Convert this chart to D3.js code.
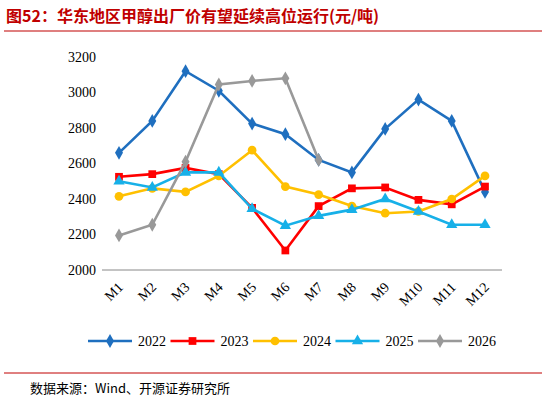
<!DOCTYPE html>
<html><head><meta charset="utf-8">
<script src="https://cdn.jsdelivr.net/npm/d3@7/dist/d3.min.js"></script>
<style>body{margin:0;background:#fff}</style>
</head><body><svg width="546" height="405"></svg>
<script>
const months = ["M1","M2","M3","M4","M5","M6","M7","M8","M9","M10","M11","M12"]
const yTicks = [2000,2200,2400,2600,2800,3000,3200]
const s2022 = [2660,2840,3120,3010,2825,2765,2620,2550,2795,2960,2840,2440]
const s2023 = [2525,2540,2575,2540,2350,2110,2360,2460,2465,2395,2370,2470]
const s2024 = [2415,2460,2440,2530,2675,2470,2425,2360,2320,2330,2400,2530]
const s2025 = [2500,2465,2550,2550,2345,2250,2305,2340,2400,2330,2255,2255]
const s2026 = [2195,2255,2610,3045,3065,3080,2620]
const series = [
  {name:"2022", v:s2022, c:"#1f6fbf", sym:d3.symbolDiamond, sz:55},
  {name:"2023", v:s2023, c:"#ff0000", sym:d3.symbolSquare, sz:60},
  {name:"2024", v:s2024, c:"#ffc000", sym:d3.symbolCircle, sz:60},
  {name:"2025", v:s2025, c:"#17b0e8", sym:d3.symbolTriangle, sz:55},
  {name:"2026", v:s2026, c:"#999999", sym:d3.symbolDiamond, sz:55}
]
const svg = d3.select("svg")
const font = "'Noto Sans CJK SC', sans-serif"
svg.append("text").attr("x",6).attr("y",22).attr("fill","#c00000").attr("font-weight","bold")
  .attr("font-size",16).attr("font-family",font).text("图52：华东地区甲醇出厂价有望延续高位运行(元/吨)")
svg.append("line").attr("x1",4).attr("x2",542).attr("y1",31).attr("y2",31).attr("stroke","#c00000").attr("stroke-width",1.2)

const x = d3.scalePoint().domain(months).range([119,485])
const y = d3.scaleLinear().domain([2000,3200]).range([270,57])
const yAx = svg.append("g").attr("transform","translate(102,0)")
  .call(d3.axisLeft(y).tickValues(yTicks).tickSize(0).tickPadding(6).tickFormat(d3.format("d")))
yAx.select(".domain").remove()
yAx.selectAll("text").attr("font-size",14).attr("font-family","'Times New Roman', 'Liberation Serif', serif").attr("fill","#000")
svg.append("line").attr("x1",102).attr("x2",502).attr("y1",270).attr("y2",270).attr("stroke","#888")
svg.selectAll(".xl").data(months).join("text")
  .attr("transform",d=>`translate(${x(d)+5},${288}) rotate(-45)`)
  .attr("text-anchor","end").attr("font-size",14).attr("font-family","'Times New Roman', 'Liberation Serif', serif").text(d=>d)

const line = d3.line().x((d,i)=>x(months[i])).y(d=>y(d))
series.forEach(s=>{
  svg.append("path").attr("d",line(s.v)).attr("fill","none").attr("stroke",s.c).attr("stroke-width",2.6)
  svg.selectAll(null).data(s.v).join("path")
    .attr("d",d3.symbol(s.sym,s.sz)).attr("fill",s.c)
    .attr("transform",(d,i)=>`translate(${x(months[i])},${y(d)})`)
})
const lx = d3.scalePoint().domain(series.map(s=>s.name)).range([110,440])
series.forEach(s=>{
  const g = svg.append("g").attr("transform",`translate(${lx(s.name)},341)`)
  g.append("line").attr("x1",-22).attr("x2",22).attr("stroke",s.c).attr("stroke-width",2.6)
  g.append("path").attr("d",d3.symbol(s.sym,s.sz)).attr("fill",s.c)
  g.append("text").attr("x",28).attr("y",5).attr("font-size",14).attr("font-family","'Times New Roman', 'Liberation Serif', serif").text(s.name)
})
svg.append("line").attr("x1",4).attr("x2",542).attr("y1",373).attr("y2",373).attr("stroke","#c00000").attr("stroke-width",1)
svg.append("text").attr("x",30).attr("y",393).attr("font-size",13).attr("font-family",font).text("数据来源：Wind、开源证券研究所")
</script></body></html>
